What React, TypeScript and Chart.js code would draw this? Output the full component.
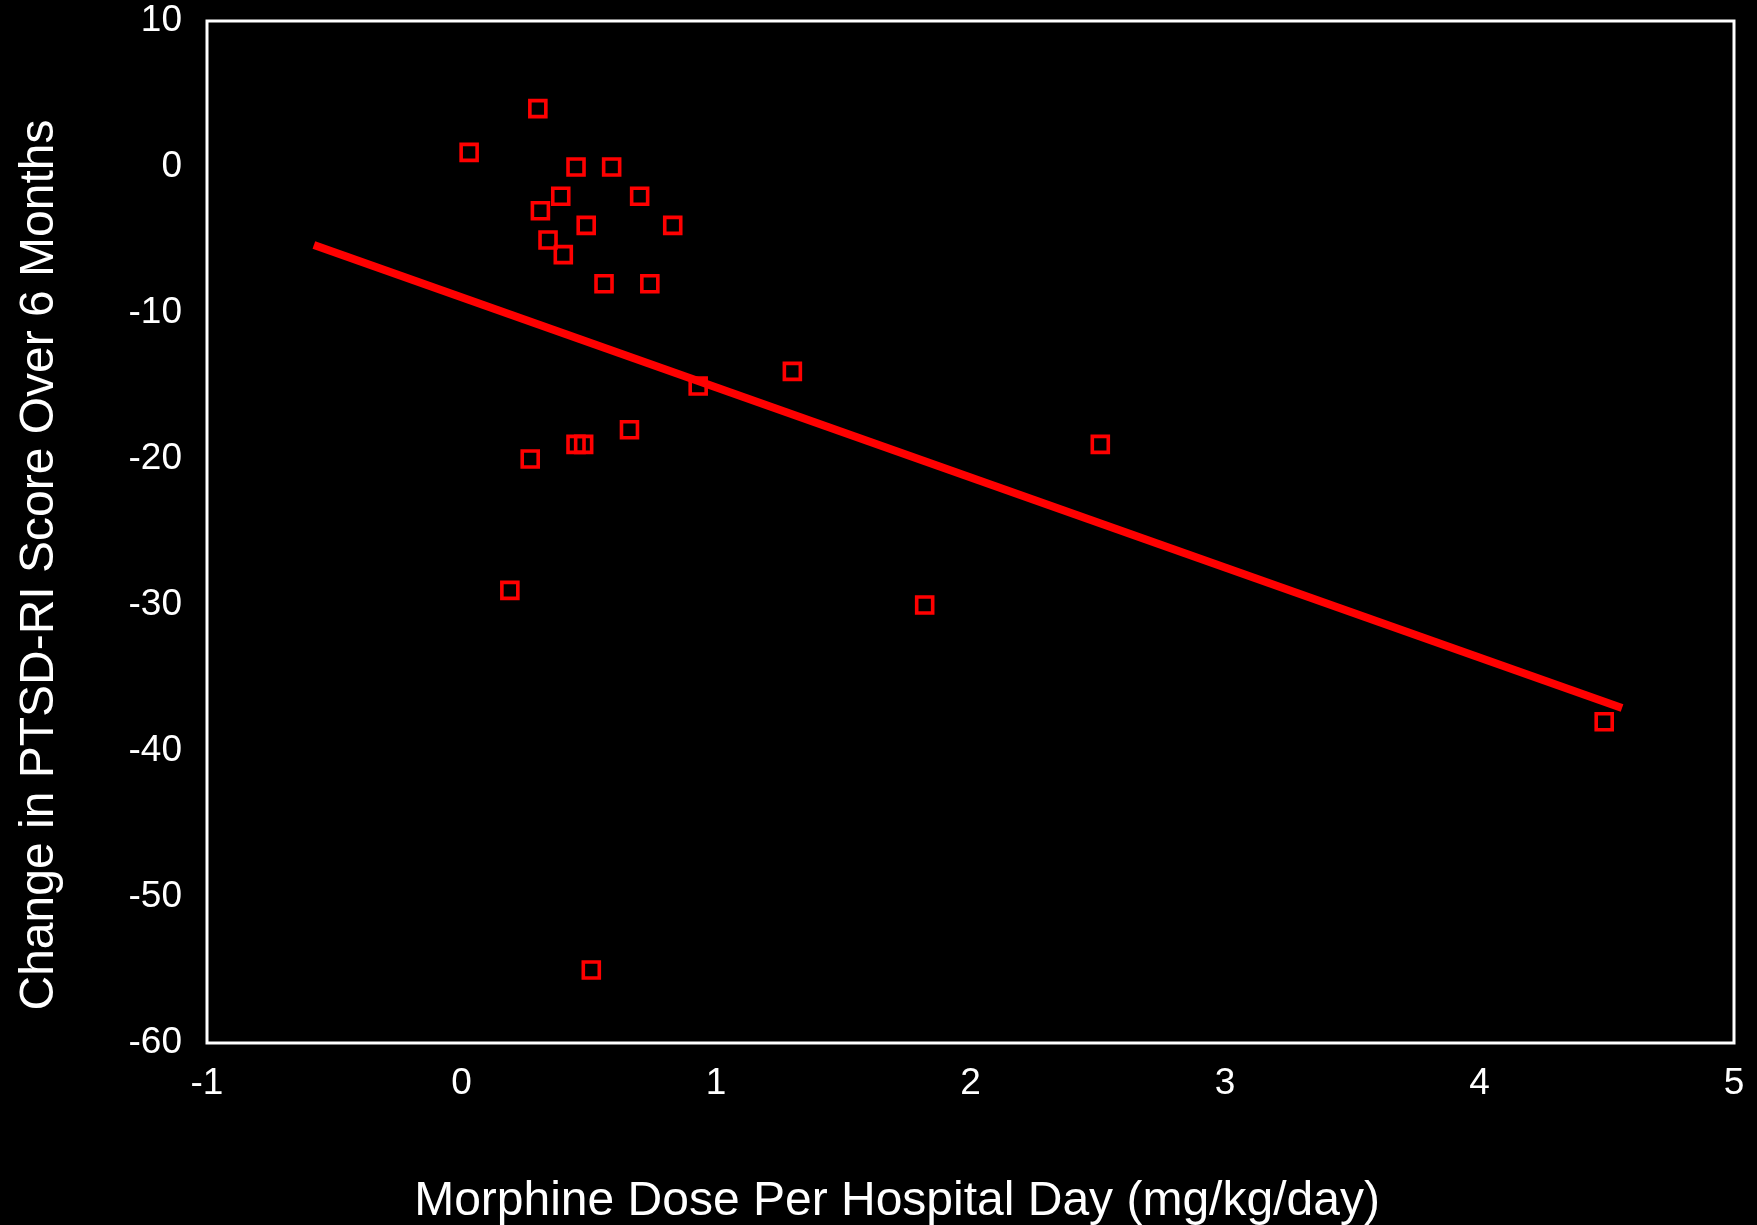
import React, { useEffect, useRef } from "react";
import { Chart, registerables } from "chart.js";

Chart.register(...registerables);

// Morphine dose per hospital day (mg/kg/day) for each patient
const doseValues = [
  0.30, 0.03, 0.45, 0.59, 0.39, 0.70, 0.31, 0.49, 0.83, 0.34, 0.40, 0.56,
  0.74, 0.93, 1.30, 0.66, 0.45, 0.48, 0.27, 2.51, 0.19, 1.82, 4.49, 0.51,
];
// Change in PTSD-RI score over 6 months for the same patients
const scoreChange = [
  4, 1, 0, 0, -2, -2, -3, -4, -4, -5, -6, -8,
  -8, -15, -14, -18, -19, -19, -20, -19, -29, -30, -38, -55,
];
// Fitted regression line end points
const fitDose = [-0.58, 4.56];
const fitScore = [-5.34, -37.05];

// Axis ticks
const xTickValues = [-1, 0, 1, 2, 3, 4, 5];
const yTickValues = [10, 0, -10, -20, -30, -40, -50, -60];

const xTitle = "Morphine Dose Per Hospital Day (mg/kg/day)";
const yTitle = "Change in PTSD-RI Score Over 6 Months";

const FONT = "'Liberation Sans', Arial, Helvetica, sans-serif";
const W = 1757;
const H = 1225;

const framePlugin = {
  id: "frameAndTitles",
  afterDraw(chart: any) {
    const { ctx, chartArea } = chart;
    ctx.save();
    // white frame around the plot area
    ctx.strokeStyle = "#ffffff";
    ctx.lineWidth = 3;
    ctx.strokeRect(
      chartArea.left,
      chartArea.top,
      chartArea.right - chartArea.left,
      chartArea.bottom - chartArea.top
    );
    // axis titles
    ctx.fillStyle = "#ffffff";
    ctx.font = `48px ${FONT}`;
    ctx.textAlign = "center";
    ctx.textBaseline = "alphabetic";
    ctx.fillText(xTitle, 897, 1215);
    ctx.translate(53, 565);
    ctx.rotate(-Math.PI / 2);
    ctx.fillText(yTitle, 0, 0);
    ctx.restore();
  },
};

export default function App() {
  const canvasRef = useRef<HTMLCanvasElement | null>(null);

  useEffect(() => {
    const canvas = canvasRef.current;
    if (!canvas) return;

    const points = doseValues.map((x, i) => ({ x, y: scoreChange[i] }));
    const fitLine = fitDose.map((x, i) => ({ x, y: fitScore[i] }));

    const chart = new Chart(canvas, {
      type: "scatter",
      data: {
        datasets: [
          {
            type: "line",
            data: fitLine,
            borderColor: "#ff0000",
            borderWidth: 8,
            borderCapStyle: "butt",
            pointRadius: 0,
            showLine: true,
            fill: false,
          } as any,
          {
            data: points,
            pointStyle: "rect",
            pointRadius: 11.3,
            pointHoverRadius: 11.3,
            pointBorderWidth: 3.6,
            borderColor: "#ff0000",
            pointBorderColor: "#ff0000",
            backgroundColor: "rgba(0,0,0,0)",
            pointBackgroundColor: "rgba(0,0,0,0)",
          } as any,
        ],
      },
      options: {
        animation: false,
        responsive: false,
        devicePixelRatio: 1,
        layout: { padding: { left: 0, top: 21, right: 23, bottom: 0 } },
        plugins: {
          legend: { display: false },
          tooltip: { enabled: false },
        },
        scales: {
          x: {
            type: "linear",
            min: -1,
            max: 5,
            afterBuildTicks: (scale: any) => {
              scale.ticks = xTickValues.map((v) => ({ value: v }));
            },
            afterFit: (scale: any) => {
              scale.height = H - 1043;
              scale.paddingLeft = 0;
              scale.paddingRight = 0;
            },
            grid: { display: false, drawTicks: false },
            border: { display: false },
            ticks: {
              color: "#ffffff",
              font: { family: FONT, size: 37 },
              padding: 19,
              maxRotation: 0,
            },
          },
          y: {
            type: "linear",
            min: -60,
            max: 10,
            afterBuildTicks: (scale: any) => {
              scale.ticks = yTickValues.map((v) => ({ value: v }));
            },
            afterFit: (scale: any) => {
              scale.width = 207;
              scale.paddingTop = 0;
              scale.paddingBottom = 0;
            },
            grid: { display: false, drawTicks: false },
            border: { display: false },
            ticks: {
              color: "#ffffff",
              font: { family: FONT, size: 37 },
              padding: 25,
            },
          },
        },
      } as any,
      plugins: [framePlugin],
    });

    return () => chart.destroy();
  }, []);

  return (
    <div
      style={{
        position: "fixed",
        left: 0,
        top: 0,
        width: W,
        height: H,
        background: "#000000",
      }}
    >
      <canvas ref={canvasRef} width={W} height={H} style={{ display: "block" }} />
    </div>
  );
}
